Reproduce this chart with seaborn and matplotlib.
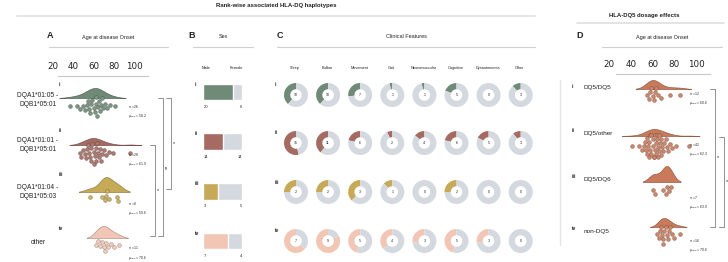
import numpy as np
import pandas as pd
import matplotlib
matplotlib.use("Agg")
import matplotlib.pyplot as plt
from matplotlib.lines import Line2D
from matplotlib.colors import to_rgb
import seaborn as sns
import warnings
warnings.filterwarnings("ignore")

# ---------------- data ----------------
haplotypes = ["DQA1*01:05 -\nDQB1*05:01", "DQA1*01:01 -\nDQB1*05:01",
              "DQA1*01:04 -\nDQB1*05:03", "other"]
row_ids = ["i", "ii", "iii", "iv"]
age_ticks = [20, 40, 60, 80, 100]

ages_hap_i = [37, 44, 47, 50, 52, 54, 55, 56, 57, 58, 59, 60, 61, 62, 62, 63,
              64, 65, 66, 67, 68, 69, 71, 73, 76, 81]
ages_hap_ii = [47, 48, 50, 52, 53, 54, 55, 56, 57, 58, 58, 59, 60, 60, 61, 62,
               62, 63, 64, 65, 66, 67, 68, 70, 72, 75, 79, 96]
ages_hap_iii = [57, 68, 71, 72, 73, 75, 83, 84]
ages_hap_iv = [62, 64, 66, 68, 70, 71, 72, 74, 77, 80, 85]
n_hap = [26, 28, 8, 11]
mu_hap = [58.2, 61.9, 59.6, 70.6]

sex_male = [20, 14, 3, 7]
sex_female = [6, 14, 5, 4]

features = ["Sleep", "Bulbar", "Movement", "Gait", "Neuromuscular",
            "Cognitive", "Dysautonomia", "Other"]
feat_i = [10, 10, 7, 1, 1, 5, 0, 3]
feat_ii = [15, 11, 6, 2, 4, 6, 5, 3]
feat_iii = [2, 2, 3, 1, 0, 2, 0, 0]
feat_iv = [7, 9, 5, 4, 3, 5, 3, 0]

dq5_groups = ["DQ5/DQ5", "DQ5/other", "DQ5/DQ6", "non-DQ5"]
ages_dq5_i = [55, 57, 58, 59, 60, 61, 62, 63, 65, 68, 76, 85]
ages_dq5_ii = [41, 48, 50, 52, 53, 54, 55, 55, 56, 57, 57, 58, 58, 59, 59, 60,
               60, 61, 61, 62, 62, 63, 63, 64, 64, 65, 65, 66, 66, 67, 68, 68,
               69, 70, 71, 72, 73, 74, 76, 78, 82, 94]
ages_dq5_iii = [60, 62, 70, 72, 73, 75, 77]
ages_dq5_iv = [64, 66, 67, 68, 69, 70, 70, 71, 72, 73, 74, 75, 76, 78, 80, 85]
n_dq5 = [12, 42, 7, 16]
mu_dq5 = [60.6, 62.3, 63.9, 70.6]

# ---------------- style ----------------
hap_colors = ["#6f8a76", "#a56b62", "#c7aa58", "#f2c6b4"]
dq5_color = "#c97a5a"
grey = "#d4d9df"
txt = "#222222"
line_c = "#d0d0d0"

W, H = 728, 262
sns.set_theme(style="white")
plt.rcParams["font.family"] = ["Liberation Sans", "DejaVu Sans"]
plt.rcParams["mathtext.fontset"] = "dejavusans"

fig = plt.figure(figsize=(W / 100, H / 100), dpi=100)
fig.patch.set_facecolor("white")


def rect(x0, y0, x1, y1):
    return [x0 / W, 1 - y1 / H, (x1 - x0) / W, (y1 - y0) / H]


def ftext(x, y, s, **kw):
    kw.setdefault("color", txt)
    fig.text(x / W, 1 - y / H, s, **kw)


def fline(xs, ys, **kw):
    fig.add_artist(Line2D([x / W for x in xs], [1 - y / H for y in ys],
                          transform=fig.transFigure, **kw))


def darker(c, f=0.35):
    r, g, b = to_rgb(c)
    return (r * (1 - f), g * (1 - f), b * (1 - f))


def lighten(c, f):
    r, g, b = to_rgb(c)
    return (r + (1 - r) * f, g + (1 - g) * f, b + (1 - b) * f)


def new_ax(x0, y0, x1, y1):
    ax = fig.add_axes(rect(x0, y0, x1, y1))
    ax.patch.set_alpha(0)
    return ax


# ---------------- titles & header lines ----------------
ftext(276, 6, "Rank-wise associated HLA-DQ haplotypes", fontsize=4.3,
      fontweight="bold", ha="center", va="center")
fline([17, 535], [16, 16], color="#e2e2e2", lw=1.3)
ftext(644, 15, "HLA-DQ5 dosage effects", fontsize=4.3, fontweight="bold",
      ha="center", va="center")
fline([577, 724], [23, 23], color="#e2e2e2", lw=1.3)

for lab, lx, title, tx, l0, l1 in [("A", 50, "Age at disease Onset", 108, 49, 168),
                                   ("B", 192, "Sex", 223, 193, 253),
                                   ("C", 280, "Clinical Features", 406, 277, 535),
                                   ("D", 580, "Age at disease Onset", 662, 602, 722)]:
    ftext(lx, 36, lab, fontsize=6.5, fontweight="bold", ha="center", va="center")
    ftext(tx, 37, title, fontsize=4, ha="center", va="center")
    fline([l0, l1], [47, 47], color=line_c, lw=0.8)

fline([560, 560], [80, 245], color="#e4e4e4", lw=1.0)


# ---------------- age panels (A and D) ----------------
def age_panel(ages_list, colors, px20, pxper, xl_px, xr_px, axis_y, bounds_px,
              baselines, swarm_c, peak_h, ann_x, ann_y, ns, mus, pt_colors):
    inv = lambda px: 20 + (px - px20) / pxper
    xl = (inv(xl_px), inv(xr_px))
    # top tick axis
    tax = new_ax(xl_px, axis_y - 2, xr_px, axis_y)
    tax.set_xlim(*xl)
    tax.set_xticks(age_ticks)
    tax.xaxis.tick_top()
    tax.tick_params(axis="x", length=0, pad=2, labelsize=6.3, colors=txt)
    for t in tax.get_xticklabels():
        t.set_fontfamily("DejaVu Sans")
    tax.set_yticks([])
    for s in ["top", "left", "right"]:
        tax.spines[s].set_visible(False)
    tax.spines["bottom"].set_bounds(inv(bounds_px[0]), inv(bounds_px[1]))
    tax.spines["bottom"].set_color("#c8c8c8")
    tax.spines["bottom"].set_linewidth(0.8)
    for k, ages in enumerate(ages_list):
        c = colors[k]
        kh = 22
        ax = new_ax(xl_px, baselines[k] - kh, xr_px, baselines[k])
        sns.kdeplot(x=ages, ax=ax, fill=True, color=c, alpha=1, linewidth=0.5,
                    edgecolor=darker(c, 0.25), cut=2)
        peak = ax.dataLim.y1
        ax.set_ylim(0, peak * kh / peak_h[k])
        ax.set_xlim(*xl)
        ax.set_axis_off()
        axs = new_ax(xl_px, swarm_c[k] - 14, xr_px, swarm_c[k] + 14)
        sns.swarmplot(x=ages, ax=axs, color=pt_colors[k], size=2.7,
                      edgecolor=darker(c, 0.4), linewidth=0.3)
        axs.set_xlim(*xl)
        axs.set_ylim(0.5, -0.5)
        axs.set_axis_off()
        ftext(ann_x, ann_y[k],
              "$n$ = %d\n$\\mu_{age}$ = %.1f" % (ns[k], mus[k]),
              fontsize=2.4, ha="left", va="center", linespacing=1.5)


age_panel([ages_hap_i, ages_hap_ii, ages_hap_iii, ages_hap_iv], hap_colors,
          52.5, 1.025, 45, 150, 76, (58, 148),
          [98, 145, 192, 238], [106, 153, 197, 245], [10, 7, 15, 12],
          128, [111.5, 159.5, 208.5, 253], n_hap, mu_hap,
          [lighten(c, 0.1) for c in hap_colors])

age_panel([ages_dq5_i, ages_dq5_ii, ages_dq5_iii, ages_dq5_iv], [dq5_color] * 4,
          609, 1.0875, 605, 712, 74, (616, 710),
          [89, 136, 182, 227], [95, 146, 190, 234], [9, 7, 16, 9],
          689, [98.5, 149.5, 202.5, 245.5], n_dq5, mu_dq5,
          [lighten(dq5_color, 0.1)] * 4)

# row labels
for k, (lab, y) in enumerate(zip(haplotypes, [100, 145, 192, 243])):
    ftext(38, y, lab, fontsize=4.8, ha="center", va="center", linespacing=1.3)
for k, y in enumerate([85, 130, 175, 228]):
    ftext(59, y, row_ids[k], fontsize=3.6, fontweight="bold", ha="left", va="center")
for k, (lab, y) in enumerate(zip(dq5_groups, [88, 134, 180, 231])):
    ftext(584, y, lab, fontsize=4.6, ha="left", va="center")
for k, y in enumerate([86, 130, 177, 228]):
    ftext(572, y, row_ids[k], fontsize=3.6, fontweight="bold", ha="left", va="center")


# brackets
def bracket(x, y0, y1, label, rot=0, tick=5):
    fline([x - tick, x, x, x - tick], [y0, y0, y1, y1], color="#666666", lw=0.5)
    ftext(x + 2.2, (y0 + y1) / 2, label, fontsize=4, ha="left", va="center",
          rotation=rot)


bracket(171, 98, 189, "*")
bracket(163, 98, 236, "**", rot=90)
bracket(155, 145, 236, "*")
bracket(715, 89, 227, "*")
bracket(724, 137, 227, "*")

# ---------------- panel B: sex ----------------
sex_df = pd.DataFrame({"row": row_ids, "male": sex_male, "female": sex_female})
sex_df["total"] = sex_df["male"] + sex_df["female"]
sex_df["full"] = sex_df["total"] / sex_df["total"]
sex_df["male_frac"] = sex_df["male"] / sex_df["total"]
unit = 49.67
top_c = 92
ylo, yhi = -0.45, 3.3
axb = new_ax(203, top_c + ylo * unit, 242, top_c + yhi * unit)
sns.barplot(data=sex_df, x="full", y="row", color=grey, orient="h", width=0.34,
            ax=axb, saturation=1)
sns.barplot(data=sex_df, x="male_frac", y="row", hue="row", palette=hap_colors,
            orient="h", width=0.34, ax=axb, legend=False, saturation=1)
axb.set_xlim(0, 1)
axb.set_ylim(yhi, ylo)
axb.set_axis_off()
ftext(206, 68, "Male", fontsize=3, ha="center", va="center")
ftext(236, 68, "Female", fontsize=3, ha="center", va="center")
for k in range(4):
    yc = top_c + k * unit
    ftext(195, yc - 8, row_ids[k], fontsize=3.6, fontweight="bold", ha="left",
          va="center")
    ftext(204, yc + 15, str(sex_male[k]), fontsize=3, ha="left", va="center")
    ftext(242, yc + 15, str(sex_female[k]), fontsize=3, ha="right", va="center")

# ---------------- panel C: clinical features donuts ----------------
feat_rows = [feat_i, feat_ii, feat_iii, feat_iv]
col_x = [296 + 32.1 * j for j in range(len(features))]
row_y = [95, 143, 192, 241]
for j, f in enumerate(features):
    ftext(col_x[j] - 1, 68, f, fontsize=2.8, ha="center", va="center")
for i, vals in enumerate(feat_rows):
    ftext(275, row_y[i] - 10, row_ids[i], fontsize=3.6, fontweight="bold",
          ha="left", va="center")
    for j, v in enumerate(vals):
        cx, cy = col_x[j], row_y[i]
        ax = new_ax(cx - 13, cy - 13, cx + 13, cy + 13)
        ax.pie([v, n_hap[i] - v], colors=[hap_colors[i], grey], startangle=90,
               counterclock=True, radius=1,
               wedgeprops=dict(width=0.52, edgecolor="none"))
        ax.set_xlim(-1.083, 1.083)
        ax.set_ylim(-1.083, 1.083)
        ax.set_aspect("equal")
        ax.set_axis_off()
        ax.text(0, 0, str(v), fontsize=2.6, ha="center", va="center", color=txt)

fig.savefig("out.png", dpi=100, facecolor="white")
